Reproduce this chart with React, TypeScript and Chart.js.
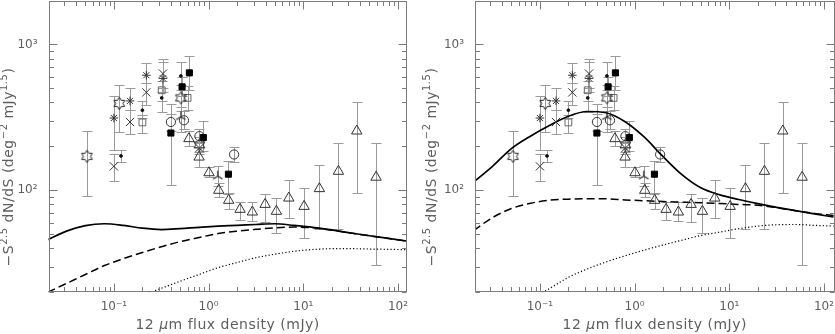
import React, { useEffect, useRef } from 'react';
import { Chart, registerables } from 'chart.js';

Chart.register(...registerables);

// ---------------- tick labels ----------------
const xTickValues = [0.1, 1, 10, 100];
const xTickLabels = ['10⁻¹', '10⁰', '10¹', '10²'];
const yTickValues = [100, 1000];
const yTickLabels = ['10²', '10³'];

// ---------------- model curves (12 um flux in mJy) ----------------
const curveFlux = [0.02, 0.0316, 0.05, 0.0794, 0.126, 0.2, 0.316, 0.5, 0.794, 1.26, 2, 3.16, 5, 7.94, 12.6, 20, 31.6, 50, 79.4, 126];
const leftSolid = [45.9, 52.5, 57.3, 59, 57.5, 55, 53.8, 54.6, 55.8, 56.8, 57.5, 58.3, 59, 57.5, 55.8, 53.5, 51, 48.8, 46.8, 44.8];
const leftDashed = [20, 23, 26.5, 30.5, 34, 37.5, 41, 44.5, 47.5, 50.5, 52.5, 54, 55.3, 56, 55.3, 53.3, 51, 48.8, 46.8, 44.8];
const leftDotted = [null, null, null, null, null, 19, 21.3, 23.8, 26.5, 29.5, 32, 34.5, 36.5, 38.2, 39.3, 39.8, 39.8, 39.6, 39.4, 39.2];
const rightSolid = [114, 146, 193, 235, 278, 322, 347, 340, 295, 232, 170, 128, 104, 93, 86.5, 81, 76.5, 72.5, 69, 65.6];
const rightDashed = [53.1, 65, 75, 81.5, 85.5, 87, 87.7, 87.5, 86, 84.8, 83.8, 83, 82.2, 81.2, 80, 79, 76, 72.5, 69.5, 67.3];
const rightDotted = [null, null, null, 17.8, 21.2, 25.3, 28.9, 32.3, 35.6, 38.9, 42.2, 45.5, 49, 51.7, 54.6, 56.8, 58.1, 58.3, 57.5, 56.9];

// ---------------- observed counts ----------------
// open six-pointed stars
const hexFlux = [0.052, 0.114, 0.51, 0.8];
const hexVal = [171, 394, 430, 205];
const hexHi = [255, 526, 530, 232];
const hexLo = [91, 251, 350, 182];
// asterisks
const astFlux = [0.1, 0.148, 0.22, 0.33];
const astVal = [313, 410, 615, 585];
const astHi = [442, 499, 741, 760];
const astLo = [188, 354, 545, 470];
// crosses
const crossFlux = [0.1, 0.148, 0.22, 0.33, 0.8];
const crossVal = [146, 294, 469, 631, 195];
const crossHi = [176, 354, 545, 789, 215];
const crossLo = [116, 242, 383, 500, 178];
// small dots
const dotFlux = [0.119, 0.2, 0.32, 0.51];
const dotVal = [172, 354, 430, 608];
const dotHi = [190, 410, 470, 760];
const dotLo = [156, 315, 344, 490];
// open squares
const osqFlux = [0.2, 0.32, 0.6];
const osqVal = [292, 485, 430];
const osqHi = [327, 560, 520];
const osqLo = [247, 410, 355];
// filled squares
const fsqFlux = [0.4, 0.525, 0.627, 0.88, 1.62];
const fsqVal = [247, 512, 638, 230, 129];
const fsqHi = [389, 600, 832, 299, 158];
const fsqLo = [108, 440, 490, 185, 95];
// open circles
const circFlux = [0.4, 0.55, 0.8, 1.86];
const circVal = [294, 302, 235, 176];
const circHi = [335, 350, 262, 198];
const circLo = [255, 262, 212, 156];
// three-armed symbols
const tripFlux = [0.51, 1.25];
const tripVal = [319, 125];
const tripHi = [372, 146];
const tripLo = [250, 107];
// open triangles
const triFlux = [0.62, 0.794, 1.01, 1.28, 1.63, 2.15, 2.9, 3.95, 5.2, 7.03, 10.2, 14.8, 23.5, 36.7, 58.7];
const triVal = [226, 169, 132, 100, 85.4, 74.1, 71, 80.1, 71.8, 88.5, 77.6, 102.7, 135, 255, 123];
const triHi = [255, 198, 145, 112, 96, 83, 83, 95, 88.5, 117, 104, 148, 210, 403, 212];
const triLo = [200, 145, 123, 90, 75, 63, 61.5, 61, 51, 65, 47, 54, 54, 96, 31];

// ---------------- styling ----------------
const FONT = '"DejaVu Sans", "Liberation Sans", sans-serif';
const FRAME = '#7c7c7c';
const TEXT = '#5e5e5e';
const ERR = '#9a9a9a';
const MARK = '#333333';

function makeHexagram(): HTMLCanvasElement {
  const c = document.createElement('canvas');
  c.width = 15; c.height = 15;
  const g = c.getContext('2d')!;
  g.strokeStyle = '#222'; g.lineWidth = 1;
  g.beginPath();
  for (let i = 0; i < 12; i++) {
    const r = i % 2 === 0 ? 6.2 : 3.6;
    const a = -Math.PI / 2 + (i * Math.PI) / 6;
    const x = 7.5 + r * Math.cos(a), y = 7.5 + r * Math.sin(a);
    if (i === 0) g.moveTo(x, y); else g.lineTo(x, y);
  }
  g.closePath(); g.stroke();
  return c;
}

function makeTripod(): HTMLCanvasElement {
  const c = document.createElement('canvas');
  c.width = 13; c.height = 13;
  const g = c.getContext('2d')!;
  g.strokeStyle = '#222'; g.lineWidth = 1.2;
  g.beginPath();
  [-90, 30, 150].forEach((deg) => {
    const a = (deg * Math.PI) / 180;
    g.moveTo(6.5, 6.5); g.lineTo(6.5 + 5.5 * Math.cos(a), 6.5 + 5.5 * Math.sin(a));
  });
  g.stroke();
  return c;
}

function labelFor(v: number, vals: number[], labels: string[]) {
  for (let i = 0; i < vals.length; i++) {
    if (Math.abs(Math.log10(v) - Math.log10(vals[i])) < 1e-6) return labels[i];
  }
  return '';
}

const errorBarPlugin = {
  id: 'errorBars',
  beforeDatasetsDraw(chart: any) {
    const { ctx, chartArea: a, scales } = chart;
    const xs = scales.x, ys = scales.y;
    ctx.save();
    ctx.beginPath(); ctx.rect(a.left, a.top, a.right - a.left, a.bottom - a.top); ctx.clip();
    ctx.strokeStyle = ERR; ctx.lineWidth = 1;
    chart.data.datasets.forEach((ds: any) => {
      if (!ds.errHi) return;
      ds.data.forEach((p: any, i: number) => {
        const px = Math.round(xs.getPixelForValue(p.x)) + 0.5;
        const yh = Math.round(ys.getPixelForValue(ds.errHi[i])) + 0.5;
        const yl = Math.round(ys.getPixelForValue(ds.errLo[i])) + 0.5;
        ctx.beginPath();
        ctx.moveTo(px, yh); ctx.lineTo(px, yl);
        ctx.moveTo(px - 5, yh); ctx.lineTo(px + 5, yh);
        ctx.moveTo(px - 5, yl); ctx.lineTo(px + 5, yl);
        ctx.stroke();
      });
    });
    ctx.restore();
  },
};

function drawRich(ctx: any, parts: any[], cx: number, cy: number, spacing: number) {
  ctx.letterSpacing = `${spacing}px`;
  let total = 0;
  const widths = parts.map((p) => { ctx.font = p.font; const w = ctx.measureText(p.t).width; total += w; return w; });
  let x = cx - total / 2;
  ctx.textBaseline = 'middle';
  ctx.textAlign = 'left';
  parts.forEach((p, i) => { ctx.font = p.font; ctx.fillText(p.t, x, cy + (p.dy || 0)); x += widths[i]; });
  ctx.letterSpacing = '0px';
}

const framePlugin = {
  id: 'frameAndTitles',
  afterDatasetsDraw(chart: any, _args: any, opts: any) {
    const { ctx, chartArea: a, scales } = chart;
    const xs = scales.x, ys = scales.y;
    ctx.save();
    ctx.strokeStyle = FRAME; ctx.lineWidth = 1;
    const L = Math.round(a.left) + 0.5, R = Math.round(a.right) - 0.5;
    const T = Math.round(a.top) + 0.5, B = Math.round(a.bottom) - 0.5;
    ctx.strokeRect(L, T, R - L, B - T);
    ctx.beginPath();
    for (let e = -2; e <= 2; e++) {
      for (let m = 1; m <= 9; m++) {
        const v = m * Math.pow(10, e);
        if (v < xs.min || v > xs.max) continue;
        const px = Math.round(xs.getPixelForValue(v)) + 0.5;
        const len = m === 1 ? 8 : 4.5;
        ctx.moveTo(px, B); ctx.lineTo(px, B - len);
        ctx.moveTo(px, T); ctx.lineTo(px, T + len);
      }
    }
    for (let e = 1; e <= 3; e++) {
      for (let m = 1; m <= 9; m++) {
        const v = m * Math.pow(10, e);
        if (v < ys.min || v > ys.max) continue;
        const py = Math.round(ys.getPixelForValue(v)) + 0.5;
        const len = m === 1 ? 8 : 4.5;
        ctx.moveTo(L, py); ctx.lineTo(L + len, py);
        ctx.moveTo(R, py); ctx.lineTo(R - len, py);
      }
    }
    ctx.stroke();

    ctx.fillStyle = TEXT;
    const base = `14px ${FONT}`;
    const sup = `10px ${FONT}`;
    const ital = `italic 14px ${FONT}`;
    drawRich(ctx, [
      { t: '12 ', font: base },
      { t: 'μ', font: ital },
      { t: 'm flux density (mJy)', font: base },
    ], (a.left + a.right) / 2, 325, 0.5);

    ctx.save();
    ctx.translate(opts.yTitleX, 167);
    ctx.rotate(-Math.PI / 2);
    drawRich(ctx, [
      { t: '−S', font: base },
      { t: '2.5', font: sup, dy: -5 },
      { t: ' dN/dS (deg', font: base },
      { t: '−2', font: sup, dy: -5 },
      { t: ' mJy', font: base },
      { t: '1.5', font: sup, dy: -5 },
      { t: ')', font: base },
    ], 0, 0, 0.5);
    ctx.restore();
    ctx.restore();
  },
};

function curveData(ys: (number | null)[]) {
  const out: any[] = [];
  curveFlux.forEach((x, i) => { if (ys[i] != null) out.push({ x, y: ys[i] }); });
  return out;
}

function markerSet(xs: number[], ys: number[], hi: number[], lo: number[], style: any) {
  return {
    data: xs.map((x, i) => ({ x, y: ys[i] })),
    errHi: hi,
    errLo: lo,
    showLine: false,
    pointStyle: style.pointStyle,
    pointRadius: style.r,
    pointBorderColor: style.stroke || MARK,
    pointBackgroundColor: style.fill || 'rgba(0,0,0,0)',
    pointBorderWidth: style.bw || 1,
    order: 1,
  };
}

function buildConfig(side: 'left' | 'right', hexImg: HTMLCanvasElement, tripImg: HTMLCanvasElement): any {
  const isLeft = side === 'left';
  const g = isLeft
    ? { yWidth: 48.5, padRight: 10.3, xMin: 0.0204, xMax: 123.6, yTitleX: 9 }
    : { yWidth: 58, padRight: 0.5, xMin: 0.02065, xMax: 129, yTitleX: 15 };
  const solid = isLeft ? leftSolid : rightSolid;
  const dashed = isLeft ? leftDashed : rightDashed;
  const dotted = isLeft ? leftDotted : rightDotted;
  const line = (ys: any[], dash: number[], w: number) => ({
    data: curveData(ys),
    showLine: true,
    pointRadius: 0,
    borderColor: '#000',
    borderWidth: w,
    borderDash: dash,
    cubicInterpolationMode: 'monotone',
    fill: false,
    order: 2,
  });
  return {
    type: 'scatter',
    data: {
      datasets: [
        line(solid, [], 1.7),
        line(dashed, [8, 4], 1.5),
        line(dotted, [1.2, 2.2], 1.2),
        markerSet(triFlux, triVal, triHi, triLo, { pointStyle: 'triangle', r: 6 }),
        markerSet(hexFlux, hexVal, hexHi, hexLo, { pointStyle: hexImg, r: 7 }),
        markerSet(astFlux, astVal, astHi, astLo, { pointStyle: 'star', r: 4.3 }),
        markerSet(crossFlux, crossVal, crossHi, crossLo, { pointStyle: 'crossRot', r: 5.8 }),
        markerSet(dotFlux, dotVal, dotHi, dotLo, { pointStyle: 'circle', r: 1.4, fill: '#111', stroke: '#111' }),
        markerSet(osqFlux, osqVal, osqHi, osqLo, { pointStyle: 'rect', r: 4.8, stroke: '#666' }),
        markerSet(fsqFlux, fsqVal, fsqHi, fsqLo, { pointStyle: 'rect', r: 4.3, fill: '#000', stroke: '#000' }),
        markerSet(circFlux, circVal, circHi, circLo, { pointStyle: 'circle', r: 4.6 }),
        markerSet(tripFlux, tripVal, tripHi, tripLo, { pointStyle: tripImg, r: 6 }),
      ],
    },
    options: {
      responsive: false,
      animation: false,
      events: [],
      layout: { autoPadding: false, padding: { left: 0, top: 0.5, right: g.padRight, bottom: 0 } },
      plugins: {
        legend: { display: false },
        tooltip: { enabled: false },
        frameAndTitles: { yTitleX: g.yTitleX },
      },
      scales: {
        x: {
          type: 'logarithmic',
          min: g.xMin,
          max: g.xMax,
          afterFit: (s: any) => { s.height = 41.7; s.paddingLeft = 0; s.paddingRight = 0; s.paddingTop = 0; s.paddingBottom = 0; },
          afterBuildTicks: (s: any) => { s.ticks = xTickValues.map((v) => ({ value: v })); },
          grid: { display: false, drawTicks: false },
          border: { display: false },
          ticks: {
            autoSkip: false,
            maxRotation: 0,
            padding: 7,
            color: TEXT,
            font: { family: FONT, size: 12 },
            callback: (v: any) => labelFor(Number(v), xTickValues, xTickLabels),
          },
        },
        y: {
          type: 'logarithmic',
          min: 20,
          max: 2000,
          afterFit: (s: any) => { s.width = g.yWidth; s.paddingTop = 0; s.paddingBottom = 0; s.paddingLeft = 0; s.paddingRight = 0; },
          afterBuildTicks: (s: any) => { s.ticks = yTickValues.map((v) => ({ value: v })); },
          grid: { display: false, drawTicks: false },
          border: { display: false },
          ticks: {
            autoSkip: false,
            padding: 11,
            color: TEXT,
            font: { family: FONT, size: 12 },
            callback: (v: any) => labelFor(Number(v), yTickValues, yTickLabels),
          },
        },
      },
    },
    plugins: [errorBarPlugin, framePlugin],
  };
}

function Panel({ side, left, width }: { side: 'left' | 'right'; left: number; width: number }) {
  const ref = useRef<HTMLCanvasElement>(null);
  useEffect(() => {
    const hexImg = makeHexagram();
    const tripImg = makeTripod();
    const chart = new Chart(ref.current!, buildConfig(side, hexImg, tripImg));
    return () => chart.destroy();
  }, [side]);
  return (
    <canvas
      ref={ref}
      width={width}
      height={334}
      style={{ position: 'absolute', left, top: 0, width, height: 334 }}
    />
  );
}

export default function App() {
  return (
    <div style={{ position: 'absolute', left: 0, top: 0, width: 835, height: 334, background: '#fff', overflow: 'hidden' }}>
      <Panel side="left" left={0} width={417} />
      <Panel side="right" left={417} width={418} />
    </div>
  );
}
